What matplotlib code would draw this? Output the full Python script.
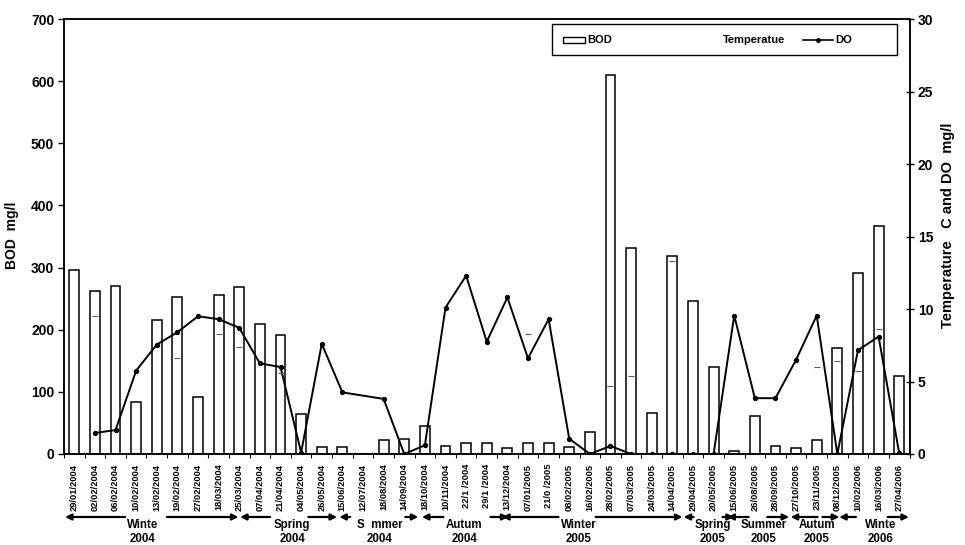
import matplotlib as mpl
mpl.use("Agg")
import matplotlib.pyplot as plt
import numpy as np
from matplotlib.lines import Line2D
from matplotlib.patches import Rectangle
from matplotlib.transforms import blended_transform_factory

plt.rcParams['font.family'] = ['Liberation Sans', 'DejaVu Sans']
plt.rcParams['font.weight'] = 'bold'

W, H = 965, 545

# sampling dates (labels as printed)
dates = ["29/01/2004", "02/02/2004", "06/02/2004", "10/02/2004", "13/02/2004",
         "19/02/2004", "27/02/2004", "18/03/2004", "25/03/2004", "07/04/2004",
         "21/04/2004", "04/05/2004", "26/05/2004", "15/06/2004", "12/07/2004",
         "18/08/2004", "14/09/2004", "18/10/2004", "10/11/2004", "22/1 /2004",
         "29/1 /2004", "13/12/2004", "07/01/2005", "21/0 /2005", "08/02/2005",
         "16/02/2005", "28/02/2005", "07/03/2005", "24/03/2005", "14/04/2005",
         "29/04/2005", "20/05/2005", "15/06/2005", "26/08/2005", "28/09/2005",
         "27/10/2005", "23/11/2005", "08/12/2005", "10/02/2006", "16/03/2006",
         "27/04/2006"]

bod = [296, 262, 270, 84, 216, 252, 92, 256, 268, 209,
       191, 64, 12, 11, np.nan, 23, 24, 45, 13, 18,
       18, 9, 17, 18, 12, 36, 610, 332, 66, 318,
       246, 140, 5, 61, 13, 9, 23, 171, 292, 367,
       125]

do = [np.nan, 1.45, 1.65, 5.75, 7.55, 8.4, 9.5, 9.3, 8.7, 6.25,
      6.0, 0.1, 7.6, 4.25, np.nan, 3.8, 0.0, 0.6, 10.1, 12.3,
      7.75, 10.8, 6.6, 9.3, 1.05, 0.0, 0.55, 0.0, 0.0, 0.0,
      0.0, 0.0, 9.55, 3.85, 3.85, 6.5, 9.55, 0.0, 7.15, 8.1,
      0.05]

temp = [np.nan, 9.5, np.nan, np.nan, np.nan, 6.6, np.nan, 8.3, 7.4, np.nan,
        5.6, np.nan, np.nan, np.nan, np.nan, np.nan, np.nan, np.nan, np.nan, np.nan,
        np.nan, np.nan, 8.3, np.nan, np.nan, np.nan, 4.7, 5.4, np.nan, 13.3,
        np.nan, np.nan, np.nan, np.nan, np.nan, np.nan, 6.0, 6.4, 5.7, 8.6,
        np.nan]

# season bands: name, year, start, left gap, right gap, end, text centre
season_names = ["Winte", "Spring", "S  mmer", "Autum", "Winter",
                "Spring", "Summer", "Autum", "Winte"]
season_years = ["2004", "2004", "2004", "2004", "2005",
                "2005", "2005", "2005", "2006"]
season_start = [-0.45, 8.04, 12.85, 16.86, 20.75, 29.55, 31.67, 34.74, 37.09]
season_gap_l = [2.46, 9.5, 13.38, 17.9, 23.48, 30.03, 32.7, 36.04, 37.9]
season_gap_r = [4.49, 11.35, 16.05, 20.18, 25.28, 31.43, 33.6, 36.28, 39.44]
season_end = [7.96, 12.74, 16.68, 21.05, 29.49, 31.98, 34.66, 37.09, 40.47]
season_text = [3.33, 10.57, 14.79, 18.92, 24.45, 30.94, 33.43, 36.0, 39.08]

x = np.arange(len(dates))
bod = np.array(bod, dtype=float)
do = np.array(do, dtype=float)
temp = np.array(temp, dtype=float)

fig = plt.figure(figsize=(W / 100, H / 100), dpi=100)
ax = fig.add_axes([0.0663, 0.167, 0.8762, 0.798])
ax2 = ax.twinx()

ax.bar(x, np.nan_to_num(bod), width=0.48, color='white', edgecolor='black', linewidth=1.1)
ax.set_xlim(-0.5, len(dates) - 0.5)
ax.set_ylim(0, 700)
ax.set_yticks(np.arange(0, 701, 100))

ok = ~np.isnan(do)
ax2.plot(x[ok], do[ok], color='black', lw=1.4, marker='o', ms=2.8)
okt = ~np.isnan(temp)
ax2.plot(x[okt], temp[okt], ls='none', marker='_', ms=4, mew=0.8, color='0.35')
ax2.set_ylim(0, 30)
ax2.set_yticks(np.arange(0, 31, 5))

# x labels at centres, small ticks on category edges
ax.set_xticks(x)
ax.set_xticklabels(dates, rotation=90, fontsize=6.7, fontweight='bold')
ax.tick_params(axis='x', which='major', length=0, pad=7)
ax.set_xticks(np.arange(-0.5, len(dates), 1), minor=True)
ax.tick_params(axis='x', which='minor', length=3, direction='out', width=0.8)

ax.tick_params(axis='y', direction='out', length=4, width=1, labelsize=10, pad=3)
ax2.tick_params(axis='y', direction='inout', length=6, width=1, labelsize=10, pad=3)
for lab in ax.get_yticklabels() + ax2.get_yticklabels():
    lab.set_fontweight('bold')

for a in (ax, ax2):
    for s in a.spines.values():
        s.set_linewidth(1.1)

ax.set_ylabel("BOD  mg/l", fontsize=10, fontweight='bold')
ax.yaxis.set_label_coords(-0.053, 0.503)
ax2.set_ylabel("Temperature   C and DO  mg/l", fontsize=10.5, fontweight='bold')
ax2.yaxis.set_label_coords(1.037, 0.526)

# legend box drawn by hand (uneven entry spacing)
def fx(px):
    return px / W

def fy(py):
    return 1 - py / H

fig.add_artist(Rectangle((fx(552), fy(55)), fx(897) - fx(552), fy(24) - fy(55),
                         transform=fig.transFigure, facecolor='white',
                         edgecolor='black', lw=1.0, zorder=5))
fig.add_artist(Rectangle((fx(563), fy(43)), fx(585) - fx(563), fy(37) - fy(43),
                         transform=fig.transFigure, facecolor='white',
                         edgecolor='black', lw=1.0, zorder=6))
fig.add_artist(Line2D([fx(803), fx(833)], [fy(40), fy(40)], transform=fig.transFigure,
                      color='black', lw=1.2, zorder=6))
fig.add_artist(Line2D([fx(818)], [fy(40)], transform=fig.transFigure, color='black',
                      marker='o', ms=2.5, zorder=6))
leg_kw = dict(fontsize=8, fontweight='bold', va='center', ha='left', zorder=7)
fig.text(fx(587), fy(40), "BOD", **leg_kw)
fig.text(fx(723), fy(40), "Temperatue", **leg_kw)
fig.text(fx(835), fy(40), "DO", **leg_kw)

# season arrows below the date labels
trans = blended_transform_factory(ax.transData, fig.transFigure)
arrow_y = fy(517)
aprops = dict(arrowstyle='-|>', mutation_scale=9, lw=1.6, color='black',
              shrinkA=0, shrinkB=0)
for i in range(len(season_names)):
    ax.annotate('', xy=(season_start[i], arrow_y), xytext=(season_gap_l[i], arrow_y),
                xycoords=trans, textcoords=trans, arrowprops=aprops)
    ax.annotate('', xy=(season_end[i], arrow_y), xytext=(season_gap_r[i], arrow_y),
                xycoords=trans, textcoords=trans, arrowprops=aprops)
    ax.text(season_text[i], fy(525), season_names[i], transform=trans,
            ha='center', va='center', fontsize=8.3, fontweight='bold')
    ax.text(season_text[i], fy(539), season_years[i], transform=trans,
            ha='center', va='center', fontsize=8.3, fontweight='bold')

fig.savefig("out.png", dpi=100)
